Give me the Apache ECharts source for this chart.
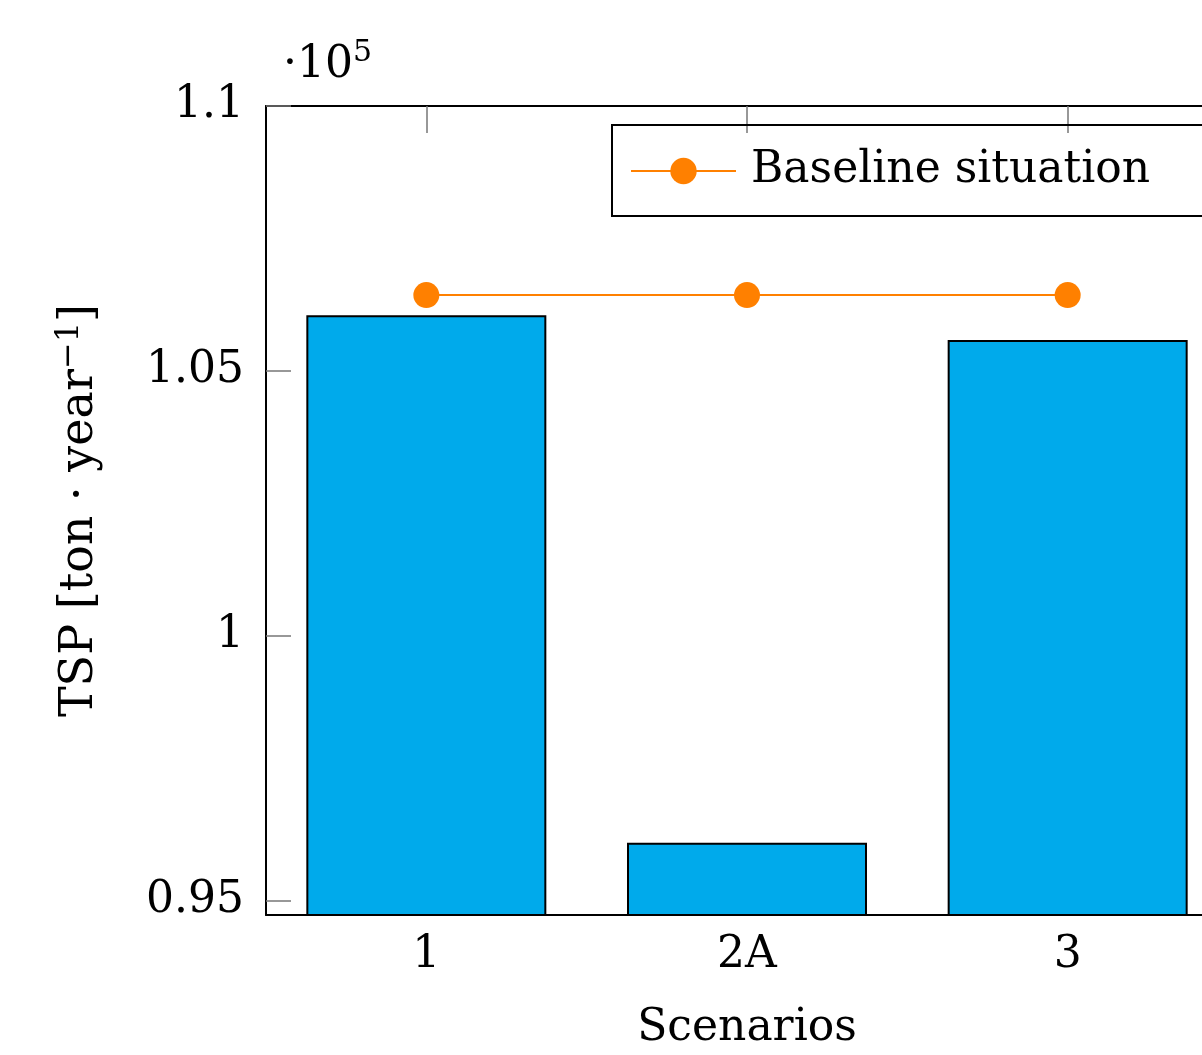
<!DOCTYPE html>
<html>
<head>
<meta charset="utf-8">
<script src="https://cdn.jsdelivr.net/npm/echarts@6/dist/echarts.min.js"></script>
<style>html,body{margin:0;padding:0;background:#fff}#c{width:1202px;height:1055px}</style>
</head>
<body>
<div id="c"></div>
<script>
const categories = ['1', '2A', '3'];
const tspValues = [106050, 96090, 105580];
const baselineValues = [106430, 106430, 106430];
const yTickValues = [95000, 100000, 105000, 110000];
const yMin = 94726;
const yMax = 110000;

const FONT = 'DejaVu Serif';
const fmt = v => String(parseFloat((v / 1e5).toFixed(2)));

const chart = echarts.init(document.getElementById('c'), null, {renderer: 'canvas'});
chart.setOption({
  animation: false,
  backgroundColor: '#fff',
  textStyle: {fontFamily: FONT, color: '#000'},
  grid: {left: 266, top: 106, bottom: 140, width: 962, containLabel: false, outerBoundsMode: 'none'},
  legend: {
    left: 612, top: 125,
    data: ['Baseline situation'],
    borderColor: '#000', borderWidth: 2,
    padding: [24, 80, 23, 18],
    itemWidth: 105, itemHeight: 33,
    textStyle: {fontFamily: FONT, fontSize: 44, color: '#000', padding: [0, 0, 0, 10]}
  },
  graphic: [{
    type: 'text', left: 283, top: 38,
    style: {
      text: '{a|·10}{s|5}',
      rich: {
        a: {fontFamily: FONT, fontSize: 44, fill: '#000', verticalAlign: 'bottom', lineHeight: 50},
        s: {fontFamily: FONT, fontSize: 30, fill: '#000', verticalAlign: 'top', lineHeight: 50, padding: [0,0,16,0]}
      }
    }
  }],
  xAxis: [{
    type: 'category', data: categories, position: 'bottom',
    name: 'Scenarios', nameLocation: 'middle', nameGap: 92,
    nameTextStyle: {fontFamily: FONT, fontSize: 44, color: '#000'},
    axisLine: {lineStyle: {color: '#000', width: 2}},
    axisTick: {show: false},
    axisLabel: {fontFamily: FONT, fontSize: 44, color: '#000', margin: 19}
  }, {
    type: 'category', data: categories, position: 'top',
    axisLine: {lineStyle: {color: '#000', width: 2}},
    axisTick: {show: true, inside: true, alignWithLabel: true, length: 27, lineStyle: {color: '#777', width: 1.5}},
    axisLabel: {show: false}
  }],
  yAxis: [{
    type: 'value', min: yMin, max: yMax, position: 'left',
    name: 'TSP [ton · year{s|−1}]', nameLocation: 'middle', nameGap: 160,
    nameTextStyle: {fontFamily: FONT, fontSize: 46, color: '#000',
      rich: {s: {fontFamily: FONT, fontSize: 32, color: '#000', verticalAlign: 'top', padding: [0,0,20,0]}}},
    splitLine: {show: false},
    axisLine: {show: true, lineStyle: {color: '#000', width: 2}},
    axisTick: {show: true, inside: true, length: 25, customValues: yTickValues, lineStyle: {color: '#777', width: 1.5}},
    axisLabel: {fontFamily: FONT, fontSize: 44, color: '#000', margin: 22, customValues: yTickValues, formatter: fmt}
  }, {
    type: 'value', min: yMin, max: yMax, position: 'right',
    splitLine: {show: false},
    axisLine: {show: true, lineStyle: {color: '#000', width: 2}},
    axisTick: {show: true, inside: true, length: 25, customValues: yTickValues, lineStyle: {color: '#777', width: 1.5}},
    axisLabel: {show: false}
  }],
  series: [{
    name: 'TSP', type: 'bar', data: tspValues, barWidth: 240, clip: true,
    itemStyle: {color: '#00AAEB', borderColor: '#000', borderWidth: 2}
  }, {
    name: 'Baseline situation', type: 'line', data: baselineValues,
    symbol: 'circle', symbolSize: 26, z: 5,
    lineStyle: {color: '#FF8000', width: 2},
    itemStyle: {color: '#FF8000'}
  }]
});
</script>
</body>
</html>
